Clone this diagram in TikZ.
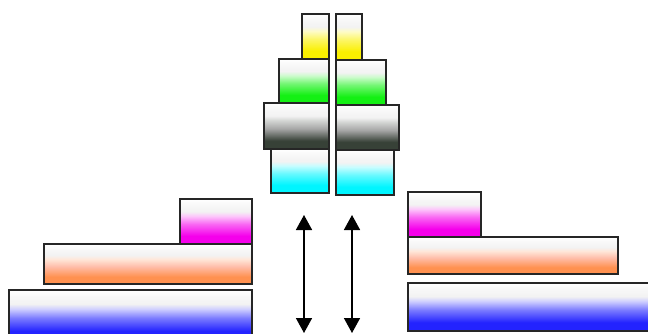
\documentclass[tikz,border=0pt]{standalone}
\usetikzlibrary{arrows.meta}
\definecolor{cyl}{RGB}{250,240,0}
\definecolor{cgr}{RGB}{20,240,20}
\definecolor{cgy}{RGB}{55,65,55}
\definecolor{ccy}{RGB}{0,245,255}
\definecolor{cmg}{RGB}{245,0,235}
\definecolor{cor}{RGB}{255,145,80}
\definecolor{cormid}{RGB}{255,190,170}
\definecolor{cbl}{RGB}{35,35,255}
\colorlet{shbot}{black}
\colorlet{shmid}{gray}
\pgfdeclareverticalshading[shbot,shmid]{bandshade}{100bp}{%
  color(0bp)=(shbot); color(34bp)=(shbot); color(47bp)=(shmid);
  color(56bp)=(shbot!22!white); color(61bp)=(black!5!white);
  color(68bp)=(black!3!white); color(75bp)=(white); color(100bp)=(white)}
\tikzset{
  blk/.style={draw=black!85, line width=1.2pt, anchor=north west, inner sep=0pt, outer sep=0pt},
  shd/.code={\colorlet{shbot}{#1}\colorlet{shmid}{#1!60!white}\tikzset{shading=bandshade}},
  shdm/.code 2 args={\colorlet{shbot}{#1}\colorlet{shmid}{#2}\tikzset{shading=bandshade}},
  arr/.style={{Triangle[width=16pt,length=15pt]}-{Triangle[width=16pt,length=15pt]}, line width=1.6pt, black}
}
\begin{document}
\begin{tikzpicture}[x=1pt,y=-1pt]
\useasboundingbox (0,0) rectangle (648,334);
\clip (0,0) rectangle (648,334);
% left column
\node[blk, shd=cyl, minimum width=27pt, minimum height=45pt] (ly) at (302,14) {};
\node[blk, shd=cgr, minimum width=50pt, minimum height=44pt] (lg) at (279,59) {};
\node[blk, shdm={cgy}{black!35}, minimum width=65pt, minimum height=46pt] (lk) at (264,103) {};
\node[blk, shd=ccy, minimum width=58pt, minimum height=44pt] (lc) at (271,149) {};
% right column
\node[blk, shd=cyl, minimum width=26pt, minimum height=46pt] (ry) at (336,14) {};
\node[blk, shd=cgr, minimum width=50pt, minimum height=45pt] (rg) at (336,60) {};
\node[blk, shdm={cgy}{black!35}, minimum width=63pt, minimum height=45pt] (rk) at (336,105) {};
\node[blk, shd=ccy, minimum width=58pt, minimum height=45pt] (rc) at (336,150) {};
% bottom left
\node[blk, shd=cmg, minimum width=72pt, minimum height=45pt] (lm) at (180,199) {};
\node[blk, shdm={cor}{cormid}, minimum width=208pt, minimum height=40pt] (lo) at (44,244) {};
\node[blk, shd=cbl, minimum width=243pt, minimum height=50pt] (lb) at (9,290) {};
% bottom right
\node[blk, shd=cmg, minimum width=73pt, minimum height=45pt] (rm) at (408,192) {};
\node[blk, shdm={cor}{cormid}, minimum width=210pt, minimum height=37pt] (ro) at (408,237) {};
\node[blk, shd=cbl, minimum width=252pt, minimum height=48pt] (rb) at (408,283) {};
% arrows
\coordinate (a1t) at (304,215);
\coordinate (a1b) at (304,333);
\coordinate (a2t) at (352,215);
\coordinate (a2b) at (352,333);
\draw[arr] (a1t) -- (a1b);
\draw[arr] (a2t) -- (a2b);
\end{tikzpicture}
\end{document}
